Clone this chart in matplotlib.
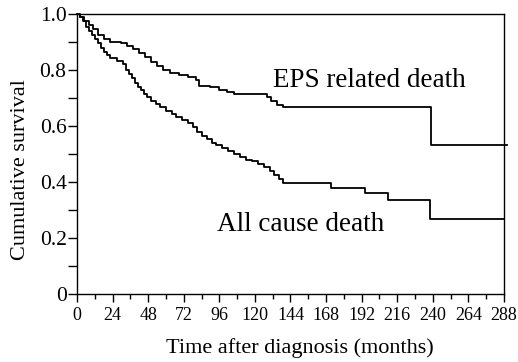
import matplotlib
matplotlib.use("Agg")
import matplotlib.pyplot as plt
from matplotlib.ticker import MultipleLocator

plt.rcParams['font.family'] = ['Liberation Serif', 'DejaVu Serif']

# Kaplan-Meier steps
eps_t = [0, 2, 5, 8, 11, 14, 18, 22, 30, 34, 38, 42, 46, 50, 54, 58, 63, 69,
         75, 80, 82, 90, 96, 101, 106, 128, 131, 135, 139, 239, 290]
eps_s = [1.0, 0.99, 0.975, 0.96, 0.945, 0.925, 0.91, 0.90, 0.895, 0.885, 0.875,
         0.86, 0.845, 0.83, 0.815, 0.80, 0.79, 0.782, 0.775, 0.765, 0.743, 0.74,
         0.73, 0.72, 0.713, 0.705, 0.69, 0.675, 0.667, 0.532, 0.532]

all_t = [0, 2, 4, 6, 8, 10, 12, 14, 16, 18, 20, 22, 27, 31, 33, 35, 37, 39, 41,
         43, 45, 47, 50, 53, 56, 60, 64, 67, 71, 75, 78, 81, 84, 88, 91, 94, 98,
         102, 106, 110, 114, 118, 122, 126, 130, 133, 136, 139, 171, 194, 210,
         238, 288]
all_s = [1.0, 0.99, 0.975, 0.955, 0.94, 0.925, 0.91, 0.895, 0.88, 0.865, 0.852,
         0.842, 0.832, 0.822, 0.80, 0.785, 0.77, 0.755, 0.74, 0.728, 0.715, 0.705,
         0.69, 0.678, 0.668, 0.655, 0.642, 0.632, 0.622, 0.61, 0.595, 0.58, 0.565,
         0.552, 0.54, 0.532, 0.52, 0.51, 0.50, 0.49, 0.48, 0.475, 0.465, 0.455,
         0.44, 0.425, 0.41, 0.396, 0.377, 0.362, 0.336, 0.268, 0.268]

x_ticks = list(range(0, 289, 24))
y_ticks = [0, 0.2, 0.4, 0.6, 0.8, 1.0]
y_labels = ['0', '0.2', '0.4', '0.6', '0.8', '1.0']

fig = plt.figure(figsize=(5.18, 3.62), dpi=100)
ax = fig.add_axes([0.1486, 0.1878, 0.8244, 0.7735])

ax.step(eps_t, eps_s, where='post', color='black', lw=1.3, clip_on=False)
ax.step(all_t, all_s, where='post', color='black', lw=1.3)

ax.set_xlim(0, 288)
ax.set_ylim(0, 1.0)
ax.set_xticks(x_ticks)
ax.xaxis.set_minor_locator(MultipleLocator(12))
ax.set_yticks(y_ticks)
ax.set_yticklabels(y_labels)
ax.yaxis.set_minor_locator(MultipleLocator(0.1))

ax.tick_params(axis='x', which='major', direction='out', length=6, width=1,
               labelsize=13, pad=3)
ax.tick_params(axis='x', which='minor', direction='out', length=3.5, width=1)
ax.tick_params(axis='y', which='both', direction='out', length=6.5, width=1,
               labelsize=15.5, pad=1)
for s in ax.spines.values():
    s.set_linewidth(1.0)

ax.set_xlabel('Time after diagnosis (months)', fontsize=16)
ax.set_ylabel('Cumulative survival', fontsize=16)
ax.xaxis.set_label_coords(0.522, -0.157)
ax.yaxis.set_label_coords(-0.110, 0.443)

ax.text(197, 0.763, 'EPS related death', fontsize=19.5, ha='center', va='center')
ax.text(150.5, 0.247, 'All cause death', fontsize=19.5, ha='center', va='center')

fig.savefig('out.png', dpi=100)
